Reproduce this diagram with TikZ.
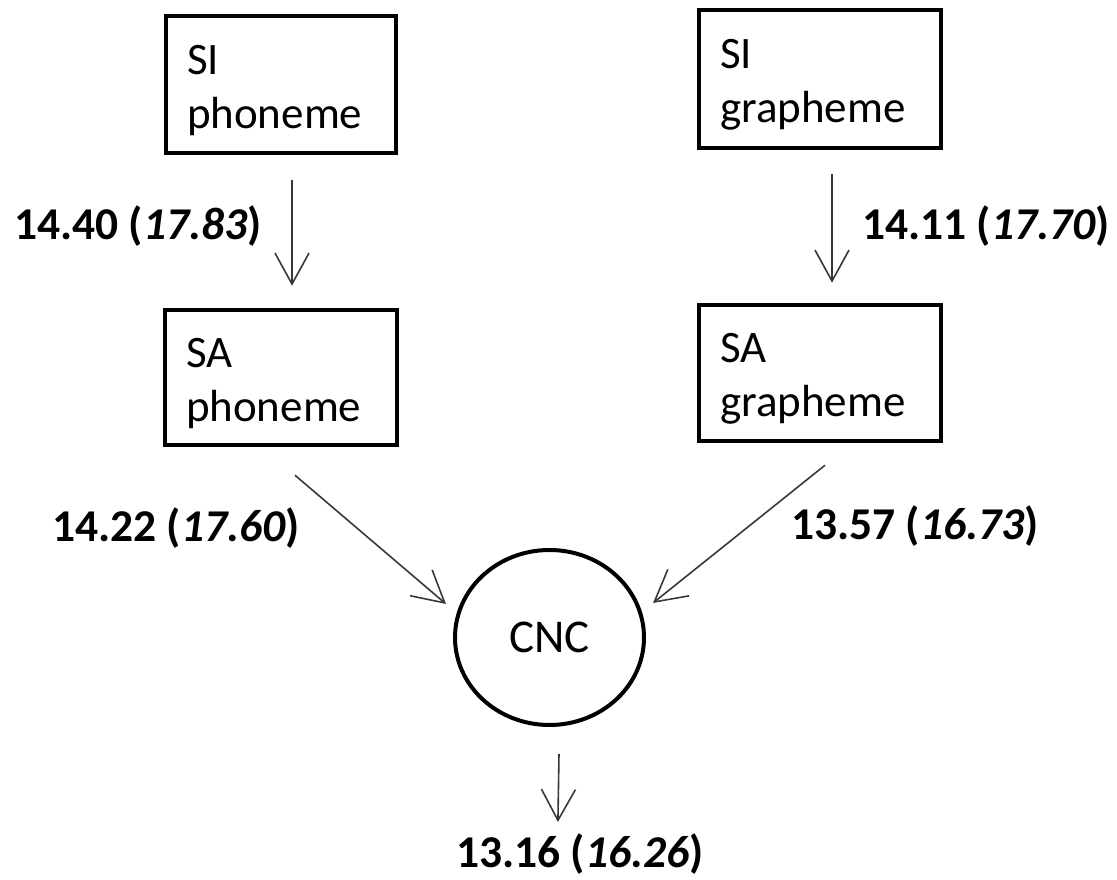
\documentclass[tikz,border=0pt]{standalone}
\usepackage{fontspec}
\setmainfont{Carlito}
\usetikzlibrary{arrows.meta,shapes.geometric}

% a tall invisible strut that pushes the two-line box text slightly down
\newcommand{\toplift}{\rule{0pt}{0.9em}}

\tikzset{
  stagebox/.style 2 args={draw=black, line width=4.5pt, rectangle,
    minimum width=#1, minimum height=#2, inner xsep=21pt, inner ysep=0pt,
    text width=#1-42pt, align=left,
    font=\fontsize{45}{54}\selectfont},
  hubnode/.style={draw=black, line width=4pt, ellipse, inner sep=0pt,
    minimum width=189pt, minimum height=175pt,
    font=\fontsize{47}{56}\selectfont},
  flow/.style={draw=black!78, line width=1.6pt,
    -{Straight Barb[length=31pt,width=34pt]}},
  score/.style={inner sep=0pt, anchor=base west,
    font=\fontsize{45.5}{54}\selectfont\bfseries}
}

\begin{document}
\begin{tikzpicture}[x=1pt,y=1pt]
\useasboundingbox (0,0) rectangle (1117,880);

% stages
\node[stagebox={230pt}{137pt}] (sip) at (281,795.5) {\toplift SI\\phoneme};
\node[stagebox={242pt}{138pt}] (sig) at (820,801) {\toplift SI\\grapheme};
\node[stagebox={232pt}{135pt}] (sap) at (281,502.5) {\toplift SA\\phoneme};
\node[stagebox={242pt}{136pt}] (sag) at (820,507) {\toplift SA\\grapheme};
\node[hubnode] (cnc) at (549.5,242.5) {CNC};

% scores
\node[score] (l1) at (14,640) {14.40 (\textit{17.83})};
\node[score] (l2) at (862,640) {14.11 (\textit{17.70})};
\node[score] (l3) at (52,338) {14.22 (\textit{17.60})};
\node[score] (l4) at (791,340) {13.57 (\textit{16.73})};
\node[score] (out) at (456,12) {13.16 (\textit{16.26})};

% connectors
\draw[flow] ([shift={(11,-25)}]sip.south) -- ([shift={(11,22)}]sap.north);
\draw[flow] ([shift={(12,-24)}]sig.south) -- ([shift={(12,20)}]sag.north);
\draw[flow] ([shift={(14,-28)}]sap.south) -- ([shift={(-103.5,33.5)}]cnc.center);
\draw[flow] ([shift={(5,-22)}]sag.south) -- ([shift={(103.5,34.5)}]cnc.center);
\draw[flow] ([shift={(9.5,-27)}]cnc.south) -- ([shift={(-22,12)}]out.north);
\end{tikzpicture}
\end{document}
